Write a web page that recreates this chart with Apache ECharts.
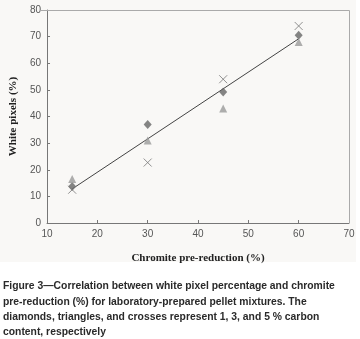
<!DOCTYPE html>
<html>
<head>
<meta charset="utf-8">
<script src="https://cdn.jsdelivr.net/npm/echarts@6/dist/echarts.min.js"></script>
<style>
  html, body { margin: 0; padding: 0; background: #ffffff; }
  #chart { width: 360px; height: 339px; }
</style>
</head>
<body>
<div id="chart"></div>
<script>
// 数据：横轴为铬铁矿预还原度，纵轴为白色像素百分比
const xTicks = [10, 20, 30, 40, 50, 60, 70];
const yTicks = [0, 10, 20, 30, 40, 50, 60, 70, 80];
const preReduction = [15, 30, 45, 60];
const diamonds = [13.7, 37.0, 49.2, 70.5];   // 1 % carbon
const triangles = [16.5, 31.0, 43.0, 68.0];  // 3 % carbon
const crosses = [12.5, 22.7, 54.0, 74.0];    // 5 % carbon
const trendX = [15, 60];
const trendY = [12.8, 69.2];
const caption = [
  "Figure 3\u2014Correlation between white pixel percentage and chromite",
  "pre-reduction (%) for laboratory-prepared pellet mixtures. The",
  "diamonds, triangles, and crosses represent 1, 3, and 5 % carbon",
  "content, respectively"
];

const pair = (xs, ys) => xs.map((x, i) => [x, ys[i]]);

const myChart = echarts.init(document.getElementById("chart"), null, { renderer: "canvas" });

const tickLabel = { color: "#555", fontSize: 10, fontFamily: "Liberation Sans" };

myChart.setOption({
  animation: false,
  backgroundColor: "#ffffff",
  grid: { left: 40, right: 11, top: 10, bottom: 116, show: false },
  graphic: [
    // 图表区域浅灰底色
    { type: "rect", z: -10, shape: { x: 0, y: 0, width: 356, height: 262 }, style: { fill: "#f9f8f6" } },
    // 上边和右边框
    { type: "polyline", z: 5, shape: { points: [[40, 10.5], [349.5, 10.5], [349.5, 223]] }, style: { stroke: "#aaa", lineWidth: 1, fill: null } }
  ].concat(caption.map((t, i) => ({
    type: "text",
    left: 3,
    top: 280 + i * 15.4,
    scaleX: 0.9,
    style: { text: t, fill: "#2a2a2a", font: "bold 11.5px 'Liberation Sans'" }
  }))),
  xAxis: {
    type: "value",
    min: 10, max: 70, interval: 10,
    name: "Chromite pre-reduction (%)",
    nameLocation: "middle",
    nameGap: 30,
    nameTextStyle: { fontFamily: "Liberation Serif", fontWeight: "bold", fontSize: 11, color: "#222" },
    axisLine: { lineStyle: { color: "#777" } },
    axisTick: { inside: true, length: 3, lineStyle: { color: "#777" } },
    axisLabel: Object.assign({ margin: 6 }, tickLabel),
    splitLine: { show: false }
  },
  yAxis: {
    type: "value",
    min: 0, max: 80, interval: 10,
    name: "White pixels (%)",
    nameLocation: "middle",
    nameGap: 25,
    nameTextStyle: { fontFamily: "Liberation Serif", fontWeight: "bold", fontSize: 11, color: "#222" },
    axisLine: { show: true, lineStyle: { color: "#777" } },
    axisTick: { show: true, inside: true, length: 3, lineStyle: { color: "#777" } },
    axisLabel: Object.assign({ margin: 6 }, tickLabel),
    splitLine: { show: false }
  },
  series: [
    {
      name: "trend",
      type: "line",
      data: pair(trendX, trendY),
      symbol: "none",
      lineStyle: { color: "#444", width: 1 },
      z: 3
    },
    {
      name: "1 % C",
      type: "scatter",
      data: pair(preReduction, diamonds),
      symbol: "diamond",
      symbolSize: [8, 9],
      itemStyle: { color: "#666" },
      z: 4
    },
    {
      name: "3 % C",
      type: "scatter",
      data: pair(preReduction, triangles),
      symbol: "triangle",
      symbolSize: [8, 8],
      itemStyle: { color: "#9a9a9a" },
      z: 4
    },
    {
      name: "5 % C",
      type: "scatter",
      data: pair(preReduction, crosses),
      symbol: "path://M0,0L10,10M10,0L0,10",
      symbolSize: 8,
      itemStyle: { color: "none", borderColor: "#777", borderWidth: 1 },
      z: 4
    }
  ]
});
</script>
</body>
</html>
